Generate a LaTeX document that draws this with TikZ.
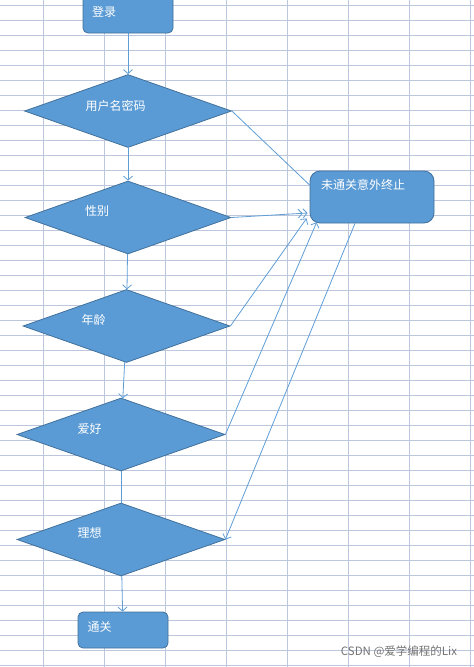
\documentclass[tikz,border=0pt]{standalone}
\usepackage{fontspec}
\newfontfamily\cjk{Noto Sans CJK SC}
\usetikzlibrary{shapes.geometric,arrows.meta}
\definecolor{boxfill}{RGB}{91,155,213}
\definecolor{boxline}{RGB}{65,113,156}
\definecolor{linecol}{RGB}{96,158,214}
\definecolor{gridcol}{RGB}{188,199,221}
\tikzset{gbox/.style={
    rectangle,
    draw=boxline,
    fill=boxfill,
    line width=0.8pt,
    rounded corners=5pt,
    minimum width=90pt,
    minimum height=36pt
  },
  failbox/.style={gbox,rounded corners=10pt,minimum width=124pt,minimum height=52pt},
  dbox/.style={
    diamond,
    draw=boxline,
    fill=boxfill,
    line width=0.8pt,
    inner sep=0pt,
    minimum width=207pt,
    minimum height=73pt
  },
  txt/.style={text=white,inner sep=0pt,font=\cjk\fontsize{12}{14}\selectfont},
  wmtext/.style={text=black!55,inner sep=0pt,font=\cjk\fontsize{11.5}{13}\selectfont},
  flow/.style={draw=linecol,line width=0.8pt},
  >={Straight Barb[length=4pt,width=9pt]}
}
\begin{document}
\begin{tikzpicture}[x=1pt,y=-1pt]
  \useasboundingbox[fill=white] (0,0) rectangle (474,667);
  % sheet grid
  \foreach \gx in {43.3,104.3,...,471}
    \draw[gridcol,line width=1pt] (\gx,0) -- (\gx,667);
  \foreach \gy in {5,20,...,665}
    \draw[gridcol,line width=1pt] (0,\gy) -- (474,\gy);

  \node [gbox,minimum height=38pt,label={[txt,xshift=-24pt,yshift=2.5pt]center:登录}] (login) at (128,14) {};
  \node [dbox,label={[txt,xshift=-12.5pt,yshift=5pt]center:用户名密码}] (user) at (128,111) {};
  \node [dbox,minimum width=206pt,label={[txt,xshift=-31pt,yshift=6.5pt]center:性别}] (gender) at (128,217.5) {};
  \node [dbox,label={[txt,xshift=-33pt,yshift=6pt]center:年龄}] (age) at (126.5,326) {};
  \node [dbox,minimum width=208pt,label={[txt,xshift=-31.5pt,yshift=5.5pt]center:爱好}] (hobby) at (121,434.5) {};
  \node [dbox,minimum width=208pt,label={[txt,xshift=-31.5pt,yshift=6.5pt]center:理想}] (ideal) at (121,539.5) {};
  \node [gbox,label={[txt,xshift=-23.5pt,yshift=3pt]center:通关}] (pass) at (123,630) {};
  \node [failbox,label={[txt,xshift=-9pt,yshift=12pt]center:未通关意外终止}] (fail) at (372,197) {};

  \draw[flow,->] (login) -- (user);
  \draw[flow,->] (user) -- (gender);
  \draw[flow,->] (gender) -- (age);
  \draw[flow,->] (age) -- (hobby);
  \draw[flow] (hobby) -- (ideal);
  \draw[flow,->] (ideal) -- (pass);

  \draw[flow] (user.east) -- ([yshift=12pt]fail.west);
  \draw[flow,->>] (gender.east) -- ([xshift=-2pt,yshift=-16pt]fail.west);
  \draw[flow,->] (age.east) -- ([xshift=-3pt,yshift=5pt]fail.south west);
  \draw[flow,->] (hobby.east) -- ([xshift=7pt,yshift=1pt]fail.south west);
  \draw[flow,->] ([xshift=-17pt]fail.south) -- (ideal.east);

  \node [wmtext] (wm) at (399,652) {CSDN @爱学编程的Lix};
\end{tikzpicture}
\end{document}
